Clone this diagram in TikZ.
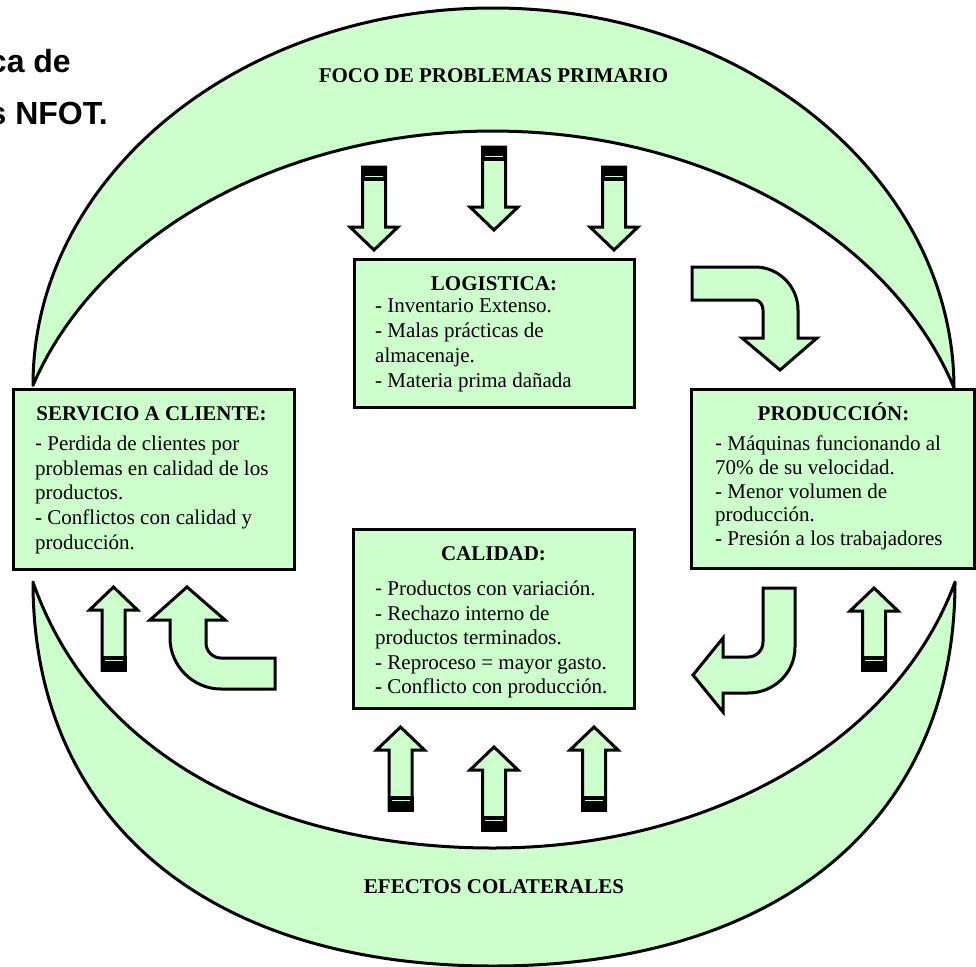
\documentclass[tikz,border=0pt]{standalone}
\usepackage{fontspec}
\setmainfont{Liberation Serif}
\newfontfamily\arialfont{Liberation Sans}
\definecolor{lg}{HTML}{CCFFCC}
\tikzset{
  crescent/.style={fill=lg, draw=black, line width=3pt, line join=round},
  boxnode/.style={rectangle, draw=black, fill=lg, line width=3pt, inner sep=0pt, outer sep=0pt},
  blockarrow/.style={fill=lg, draw=black, line width=3pt, line join=miter},
  titletext/.style={font=\fontsize{21}{24.5}\selectfont\bfseries, anchor=base, inner sep=0pt},
  bodytext/.style={anchor=north west, align=left, inner sep=0pt},
  bigtext/.style={font=\arialfont\fontsize{32}{40}\selectfont\bfseries, anchor=base east, inner sep=0pt},
}
% #1 centre x, #2 tail y, #3 tip y, #4 direction (1 = down, (-1) = up)
\newcommand\blkarrow[4]{%
  \filldraw[blockarrow] ({#1-11.5},{#2}) -- ({#1+11.5},{#2}) -- ({#1+11.5},{#3-23*#4}) -- ({#1+24},{#3-23*#4}) -- ({#1},{#3}) -- ({#1-24},{#3-23*#4}) -- ({#1-11.5},{#3-23*#4}) -- cycle;
  \fill[black] ({#1-13},{#2-1.5*#4}) rectangle ({#1+13},{#2+14*#4});
  \draw[lg, line width=1.3pt] ({#1-9},{#2+9.5*#4}) -- ({#1+9},{#2+9.5*#4});
}
\newcommand\sdash{{\arialfont -}}
\begin{document}
\begin{tikzpicture}[x=1pt, y=-1pt]
\useasboundingbox (0,0) rectangle (976,966);

% top crescent
\filldraw[crescent] (33,385) .. controls (33,177) and (239,8) .. (493,8)
  .. controls (747,8) and (954,179) .. (954,389)
  -- plot[domain=17.6:161.9, samples=90, variable=\t] ({493+484*cos(\t)}, {500-369*sin(\t)}) -- cycle;
% bottom crescent
\filldraw[crescent] (33,582) .. controls (33,820) and (208,966) .. (493,966)
  .. controls (779,966) and (955,820) .. (955,582)
  .. controls (895,745) and (706,848) .. (493,848)
  .. controls (280,848) and (95,760) .. (33,582) -- cycle;

\node[titletext] (foco) at (493.5,82) {FOCO DE PROBLEMAS PRIMARIO};
\node[titletext] (efectos) at (494,893) {EFECTOS COLATERALES};

% partial heading at the top left
\node[bigtext] (head1) at (71,72) {ca de};
\node[bigtext] (head2) at (108,124) {s NFOT.};

% boxes
\node[boxnode, minimum width=280pt, minimum height=148pt] (logbox) at (494,333) {};
\node[boxnode, minimum width=281pt, minimum height=180pt] (serbox) at (153.8,479) {};
\node[boxnode, minimum width=283pt, minimum height=179pt] (probox) at (833,478.7) {};
\node[boxnode, minimum width=281pt, minimum height=179pt] (calbox) at (493.8,618.7) {};

% box texts
\node[titletext] (logt) at (494,290) {LOGISTICA:};
\node[bodytext, font=\fontsize{21}{25}\selectfont] (logb) at (375,298.7)
  {- Inventario Extenso.\\- Malas prácticas de\\almacenaje.\\- Materia prima dañada};

\node[titletext] (sert) at (151.5,420) {SERVICIO A CLIENTE:};
\node[bodytext, font=\fontsize{21}{24.75}\selectfont] (serb) at (35,435.7)
  {\sdash\ Perdida de clientes por\\problemas en calidad de los\\productos.\\- Conflictos con calidad y\\producción.};

\node[titletext] (prot) at (833.5,420) {PRODUCCIÓN:};
\node[bodytext, font=\fontsize{21}{23.75}\selectfont] (prob) at (715,435.7)
  {\sdash\ Máquinas funcionando al\\70\% de su velocidad.\\- Menor volumen de\\producción.\\- Presión a los trabajadores};

\node[titletext] (calt) at (493.5,560) {CALIDAD:};
\node[bodytext, font=\fontsize{21}{24.5}\selectfont] (calb) at (375,580.7)
  {\sdash\ Productos con variación.\\- Rechazo interno de\\productos terminados.\\- Reproceso = mayor gasto.\\- Conflicto con producción.};

% straight block arrows
\blkarrow{374}{167}{250}{1}
\blkarrow{494}{147}{230}{1}
\blkarrow{614}{167}{250}{1}
\blkarrow{400.5}{810}{727}{(-1)}
\blkarrow{494}{830}{747}{(-1)}
\blkarrow{594}{810}{727}{(-1)}
\blkarrow{113.5}{670}{587}{(-1)}
\blkarrow{874}{670}{588}{(-1)}

% curved block arrows
\filldraw[blockarrow] (187,587) -- (225,620) -- (206,620) -- (206,643)
  .. controls (206,651.3) and (212.7,658) .. (221,658) -- (275,658) -- (275,689) -- (221,689)
  .. controls (193,689) and (170,666) .. (170,638) -- (170,620) -- (150,620) -- cycle;
\filldraw[blockarrow] (692,267) -- (755,267) .. controls (778.7,267) and (798,286.3) .. (798,310)
  -- (798,338) -- (817,338) -- (780,370) -- (742,338) -- (763,338) -- (763,310)
  .. controls (763,304.5) and (759.4,300) .. (755,300) -- (692,300) -- cycle;
\filldraw[blockarrow] (763,588) -- (795,588) -- (795,647) .. controls (795,673) and (774,693) .. (748,693)
  -- (723,693) -- (723,712) -- (693,675) -- (723,638) -- (723,657) -- (748,657)
  .. controls (756.3,657) and (763,650.3) .. (763,642) -- cycle;
\end{tikzpicture}
\end{document}
